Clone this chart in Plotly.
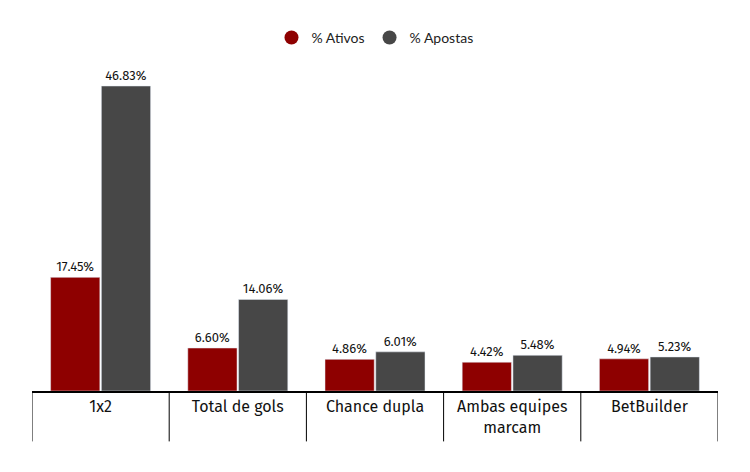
import plotly.graph_objects as go

categories = ["1x2", "Total de gols", "Chance dupla", "Ambas equipes<br>marcam", "BetBuilder"]
ativos = [17.45, 6.60, 4.86, 4.42, 4.94]
apostas = [46.83, 14.06, 6.01, 5.48, 5.23]
series_names = ["% Ativos", "% Apostas"]
colors = ["#8e0000", "#474747"]

fig = go.Figure()
for name, vals, col in zip(series_names, [ativos, apostas], colors):
    fig.add_trace(go.Bar(
        x=categories, y=vals, name=name, marker_color=col,
        texttemplate="%{y:.2f}%", textposition="outside",
        textfont=dict(family="Fira Sans, Roboto, sans-serif", size=13, color="#111"),
        cliponaxis=False, showlegend=False,
    ))
    fig.add_trace(go.Scatter(
        x=[None], y=[None], mode="markers", name=name,
        marker=dict(color=col, size=14, symbol="circle"),
    ))

shapes = []
for i in range(len(categories) + 1):
    shapes.append(dict(type="line", xref="x", yref="paper",
                       x0=i - 0.5, x1=i - 0.5, y0=0, y1=-0.157,
                       line=dict(color="black", width=1)))

fig.update_layout(
    width=750, height=472,
    margin=dict(l=24, r=40, t=62, b=89, autoexpand=False),
    plot_bgcolor="white", paper_bgcolor="white",
    barmode="group", bargap=0.26, bargroupgap=0.03,
    shapes=shapes,
    legend=dict(orientation="h", x=0.5, xanchor="center", y=1.1, yanchor="middle",
                font=dict(family="Lato, sans-serif", size=14, color="#222"),
                itemwidth=30),
    xaxis=dict(showline=True, linecolor="black", linewidth=2, showgrid=False,
               tickfont=dict(family="Fira Sans, Roboto, sans-serif", size=16, color="#111"),
               ticks="", range=[-0.5, 4.5], automargin=False),
    yaxis=dict(visible=False, range=[0, 49.29], automargin=False),
)

fig.write_html("out.html")
